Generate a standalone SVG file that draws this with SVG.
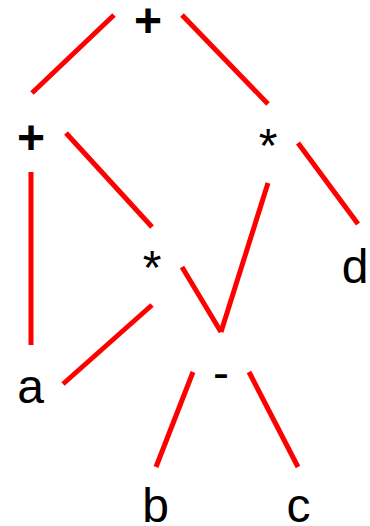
<svg xmlns="http://www.w3.org/2000/svg" width="370" height="526" viewBox="0 0 370 526">
<style>
.e{stroke:#ff0000;stroke-width:5;fill:none;stroke-linecap:butt}
.t{font-family:"Liberation Sans",Arial,sans-serif;font-size:48px;fill:#000;text-anchor:middle}
.b{font-weight:bold}
</style>
<rect width="370" height="526" fill="#fff"/>
<g id="edges">
<line class="e" x1="114" y1="15" x2="32" y2="93"/>
<line class="e" x1="182" y1="15" x2="268" y2="104"/>
<line class="e" x1="66" y1="133" x2="152" y2="227"/>
<line class="e" x1="31" y1="172" x2="31" y2="345"/>
<line class="e" x1="298" y1="143" x2="358" y2="224"/>
<line class="e" x1="182" y1="267" x2="221" y2="332"/>
<line class="e" x1="268" y1="183" x2="221" y2="332"/>
<line class="e" x1="152" y1="305" x2="63" y2="384"/>
<line class="e" x1="193" y1="372" x2="156" y2="467"/>
<line class="e" x1="249" y1="372" x2="298" y2="467"/>
</g>
<g id="n_plus1"><text class="t b" x="148" y="37">+</text></g>
<g id="n_plus2"><text class="t b" x="31" y="154">+</text></g>
<g id="n_mul1"><text class="t" x="268" y="162">*</text></g>
<g id="n_mul2"><text class="t" x="152" y="284">*</text></g>
<g id="n_minus"><text class="t" x="221" y="389">-</text></g>
<g id="n_a"><text class="t" x="30.5" y="403">a</text></g>
<g id="n_b"><text class="t" x="155.5" y="522">b</text></g>
<g id="n_c"><text class="t" x="298.5" y="522">c</text></g>
<g id="n_d"><text class="t" x="355" y="283">d</text></g>
</svg>
